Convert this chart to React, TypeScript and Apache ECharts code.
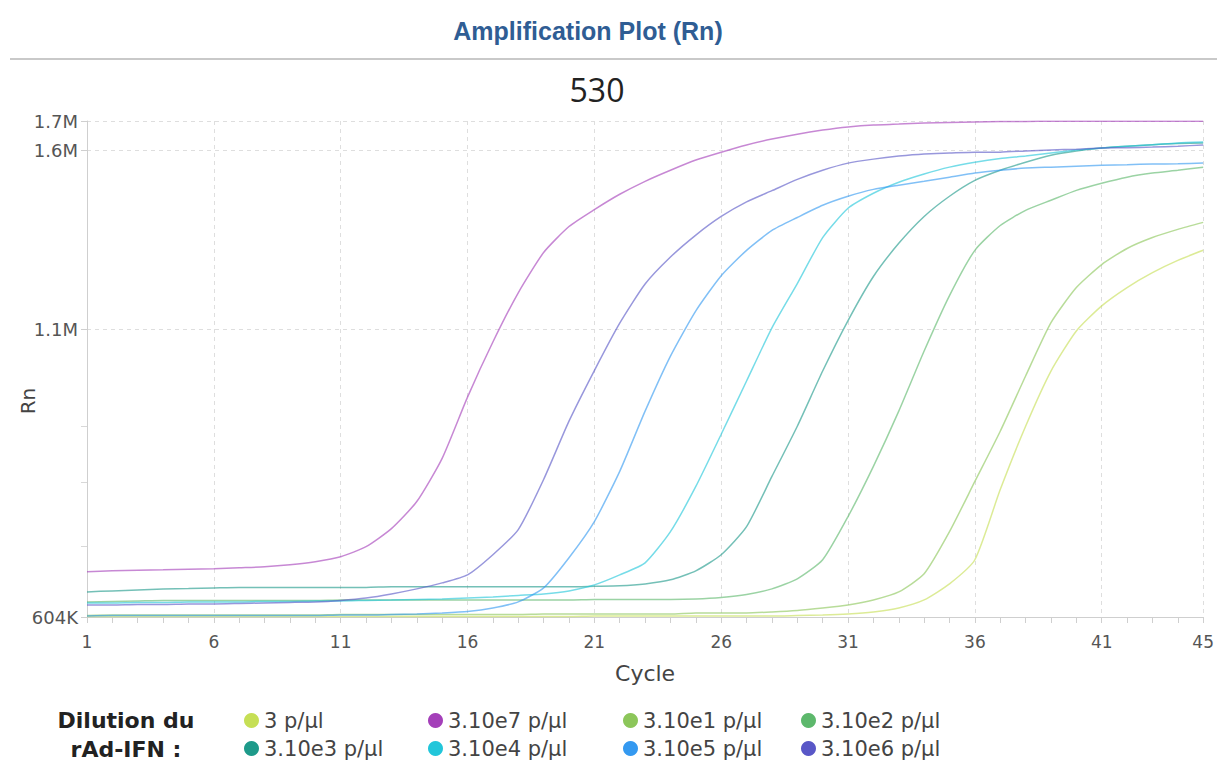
import React, { useEffect, useRef } from "react";
import * as echarts from "echarts";

// Cycle categories (x axis)
const cycles = [
  "1","2","3","4","5","6","7","8","9","10","11","12","13","14","15",
  "16","17","18","19","20","21","22","23","24","25","26","27","28","29","30",
  "31","32","33","34","35","36","37","38","39","40","41","42","43","44","45",
];

// Y axis tick labels (Rn, in thousands)
const yLabelValues = [604, 1100, 1600, 1700];
const yMinorTicks = [700, 800, 900];

// Series values (Rn, in thousands) per cycle
const s3 = [
  604.6, 604.6, 604.6, 604.6, 604.6, 604.6, 604.6, 604.6, 604.6, 604.6,
  604.6, 604.6, 604.6, 604.6, 604.6, 604.6, 604.6, 604.6, 604.6, 604.6,
  605.3, 605.3, 605.3, 605.3, 605.3, 605.3, 605.3, 605.3, 605.9, 606.5,
  607.8, 610.4, 615.5, 625.9, 647.2, 680.6, 788, 899.3, 1009, 1097,
  1156, 1201, 1239, 1271, 1298,
];
const s3e7 = [
  663.7, 665.1, 666.0, 666.5, 667.2, 667.9, 669.3, 670.7, 673.5, 677.8,
  684.9, 699.4, 726.3, 768.5, 841.0, 955.6, 1072, 1188, 1292, 1364,
  1413, 1459, 1499, 1534, 1567, 1593, 1617, 1637, 1654, 1668,
  1679, 1686, 1689, 1693, 1695, 1696.5, 1698, 1698.5, 1699, 1699,
  1699, 1699, 1699, 1699, 1699,
];
const s3e1 = [
  605.9, 606.5, 606.5, 606.5, 606.5, 606.5, 606.5, 606.5, 606.5, 606.5,
  607.2, 607.2, 607.2, 607.2, 607.2, 607.2, 607.2, 607.2, 607.8, 607.8,
  607.8, 607.8, 607.8, 607.8, 609.1, 609.1, 609.1, 610.4, 612.3, 615.5,
  619.4, 625.9, 636.5, 661, 721.7, 801.4, 889.9, 998.6, 1116, 1201,
  1260, 1303, 1333, 1356, 1376,
];
const s3e2 = [
  623.3, 624.0, 624.6, 625.3, 625.3, 625.3, 625.3, 625.3, 625.3, 625.3,
  625.9, 625.9, 625.9, 625.9, 625.9, 625.9, 625.9, 625.9, 625.9, 625.9,
  626.6, 626.6, 626.6, 626.6, 627.2, 629.2, 633.1, 640.5, 654.0, 680.6,
  744.8, 827.0, 928.0, 1052, 1181, 1298, 1367, 1411, 1441, 1471,
  1493, 1512, 1525, 1534, 1544,
];
const s3e3 = [
  636.5, 637.8, 639.1, 640.5, 641.1, 641.8, 642.5, 642.5, 642.5, 642.5,
  642.5, 642.5, 643.2, 643.2, 643.2, 643.2, 643.2, 643.2, 643.2, 643.2,
  643.9, 644.6, 647.2, 652.7, 665.1, 687.8, 729.3, 809.8, 899.3, 1009,
  1121, 1229, 1317, 1393, 1453, 1502, 1534, 1560, 1583, 1597,
  1607, 1613, 1618, 1622, 1624,
];
const s3e4 = [
  622.0, 622.0, 622.6, 622.6, 623.3, 623.3, 623.3, 624.0, 624.0, 624.6,
  624.6, 625.3, 625.9, 626.6, 627.2, 628.5, 629.8, 631.8, 633.8, 637.8,
  645.9, 659.5, 676.3, 721.7, 793.1, 884.3, 988.2, 1104, 1211, 1333,
  1417, 1462, 1496, 1522, 1544, 1560, 1572, 1580, 1590, 1600,
  1607, 1613, 1618, 1624, 1627,
];
const s3e5 = [
  605.3, 605.9, 605.9, 605.9, 605.9, 605.9, 605.9, 605.9, 605.9, 605.9,
  606.5, 606.5, 607.2, 607.8, 609.1, 611.0, 615.5, 623.3, 641.8, 683.5,
  737.0, 818.4, 928.0, 1041, 1144, 1231, 1298, 1353, 1390, 1426,
  1453, 1474, 1487, 1499, 1512, 1525, 1534, 1541, 1544, 1547,
  1550, 1552, 1554, 1555, 1557,
];
const s3e6 = [
  619.4, 619.4, 620.0, 620.0, 620.7, 620.7, 621.3, 622.0, 622.6, 623.3,
  625.3, 628.5, 633.8, 640.5, 648.6, 659.5, 687.8, 724.8, 804.7, 908.8,
  1010, 1115, 1210, 1280, 1340, 1393, 1436, 1470, 1505, 1534,
  1557, 1570, 1580, 1587, 1590, 1593, 1593, 1597, 1600, 1603,
  1607, 1608, 1610, 1613, 1617,
];

const seriesNames = [
  "3 p/µl", "3.10e7 p/µl", "3.10e1 p/µl", "3.10e2 p/µl",
  "3.10e3 p/µl", "3.10e4 p/µl", "3.10e5 p/µl", "3.10e6 p/µl",
];
const seriesColors = [
  "#c6df55", "#a43fb9", "#8cc65a", "#5db86c",
  "#1e9a8a", "#22c6da", "#3499f0", "#5957c7",
];
const seriesData = [s3, s3e7, s3e1, s3e2, s3e3, s3e4, s3e5, s3e6];

export default function App() {
  const ref = useRef<HTMLDivElement>(null);

  useEffect(() => {
    document.body.style.margin = "0";
    document.body.style.overflow = "hidden";
    const chart = echarts.init(ref.current!, null, { renderer: "svg" });

    const labelInterval = (i: number) => i % 5 === 0 || i === cycles.length - 1;
    const fmt = (v: number) => {
      const r = Math.round(v * 10) / 10;
      if (r >= 1000) return (Math.round(r / 100) / 10) + "M";
      return Math.round(r) + "K";
    };

    const colLefts = [244, 428, 623, 801];
    const rowTops = [710, 738];
    const legends = seriesNames.map((name, i) => ({
      show: true,
      data: [{ name, itemStyle: { color: seriesColors[i], opacity: 1 } }],
      left: colLefts[i % 4],
      top: rowTops[Math.floor(i / 4)],
      padding: 0,
      icon: "circle",
      itemWidth: 15,
      itemHeight: 15,
      selectedMode: false,
      textStyle: { fontFamily: "DejaVu Sans", fontSize: 21, color: "#444" },
    }));

    const option: any = {
      animation: false,
      backgroundColor: "#ffffff",
      grid: { left: 87, right: 12, top: 121, bottom: 157, containLabel: false },
      legend: legends,
      xAxis: {
        type: "category",
        data: cycles,
        boundaryGap: false,
        axisLine: { show: true, lineStyle: { color: "#cfcfcf", width: 1 } },
        axisTick: { show: true, interval: 0, length: 6, lineStyle: { color: "#cfcfcf" } },
        axisLabel: {
          interval: labelInterval,
          color: "#555",
          fontFamily: "DejaVu Sans",
          fontSize: 17,
          margin: 16,
        },
        splitLine: {
          show: true,
          interval: labelInterval,
          lineStyle: { color: "#dedede", type: [4, 4], width: 1 },
        },
        name: "Cycle",
        nameLocation: "middle",
        nameGap: 45,
        nameTextStyle: { fontFamily: "DejaVu Sans", fontSize: 22, color: "#444" },
      },
      yAxis: [
        {
          type: "log",
          logBase: 10,
          min: 604,
          max: 1700,
          axisLine: { show: true, lineStyle: { color: "#cfcfcf", width: 1 } },
          axisTick: { show: true, customValues: yLabelValues, length: 6, lineStyle: { color: "#cfcfcf" } },
          axisLabel: {
            customValues: yLabelValues,
            formatter: fmt,
            color: "#555",
            fontFamily: "DejaVu Sans",
            fontSize: 18,
            margin: 9,
          },
          splitLine: { show: true, lineStyle: { color: "#dedede", type: [4, 4], width: 1 } },
        },
        {
          type: "log",
          logBase: 10,
          min: 604,
          max: 1700,
          position: "left",
          axisLine: { show: false },
          axisTick: { show: true, customValues: yMinorTicks, length: 6, lineStyle: { color: "#d8d8d8" } },
          axisLabel: { show: false },
          splitLine: { show: false },
        },
      ],
      series: seriesNames.map((name, i) => ({
        name,
        type: "line",
        data: seriesData[i],
        yAxisIndex: 0,
        showSymbol: false,
        symbol: "none",
        smooth: 0.2,
        itemStyle: { color: seriesColors[i] },
        lineStyle: { color: seriesColors[i], width: 1.5, opacity: 0.62 },
        emphasis: { disabled: true },
      })),
      graphic: [
        {
          type: "text",
          x: 588,
          y: 31,
          style: {
            text: "Amplification Plot (Rn)",
            fontFamily: "Liberation Sans",
            fontWeight: "bold",
            fontSize: 25,
            fill: "#2f5d94",
            align: "center",
            verticalAlign: "middle",
          },
        },
        {
          type: "line",
          shape: { x1: 10, y1: 59, x2: 1217, y2: 59 },
          style: { stroke: "#c9c9c9", lineWidth: 2 },
        },
        {
          type: "text",
          x: 597,
          y: 89,
          style: {
            text: "530",
            fontFamily: "Open Sans",
            fontSize: 32,
            fill: "#222",
            align: "center",
            verticalAlign: "middle",
          },
        },
        {
          type: "text",
          x: 28,
          y: 401,
          rotation: Math.PI / 2,
          style: {
            text: "Rn",
            fontFamily: "DejaVu Sans",
            fontSize: 20,
            fill: "#444",
            align: "center",
            verticalAlign: "middle",
          },
        },
        {
          type: "text",
          x: 126,
          y: 720,
          style: {
            text: "Dilution du",
            fontFamily: "DejaVu Sans",
            fontWeight: "bold",
            fontSize: 22,
            fill: "#222",
            align: "center",
            verticalAlign: "middle",
          },
        },
        {
          type: "text",
          x: 126,
          y: 749,
          style: {
            text: "rAd-IFN :",
            fontFamily: "DejaVu Sans",
            fontWeight: "bold",
            fontSize: 22,
            fill: "#222",
            align: "center",
            verticalAlign: "middle",
          },
        },
      ],
    };

    chart.setOption(option);
    return () => chart.dispose();
  }, []);

  return <div ref={ref} style={{ width: 1217, height: 774 }} />;
}
